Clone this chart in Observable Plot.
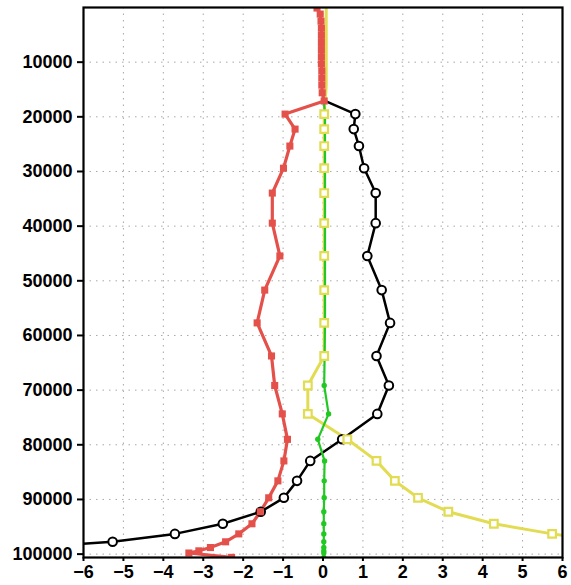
<!DOCTYPE html>
<html>
<head>
<meta charset="utf-8">
<script src="https://cdn.jsdelivr.net/npm/d3@7"></script>
<script src="https://cdn.jsdelivr.net/npm/@observablehq/plot@0.6"></script>
<style>
  html, body { margin: 0; padding: 0; background: #fff; }
  #chart svg { display: block; }
</style>
</head>
<body>
<div id="chart"></div>
<script>
// Vertical levels (Pa)
const levels = [100, 1200, 2500, 3800, 5100, 6400, 7700, 9000, 10300, 11600, 12900, 14200, 15600, 17100,
  19500, 22250, 25350, 29400, 33950, 39450, 45450, 51700, 57700, 63750, 69150, 74350, 79000, 82950,
  86600, 89700, 92250, 94450, 96300, 97750, 98800, 99400, 99800, 100600];

// null = not visible in the reference (hidden above 17100 Pa)
const blackSeries = [null, null, null, null, null, null, null, null, null, null, null, null, null, 0.05,
  0.81, 0.77, 0.90, 1.03, 1.32, 1.32, 1.11, 1.47, 1.68, 1.34, 1.65, 1.36, 0.48, -0.32,
  -0.65, -0.98, -1.56, -2.51, -3.71, -5.27, -7.5, -8.8, -9.6, -10.5];

const yellowSeries = [0.08, 0.08, 0.08, 0.08, 0.08, 0.08, 0.08, 0.08, 0.08, 0.08, 0.08, 0.08, 0.07, 0.05,
  0.03, 0.03, 0.03, 0.03, 0.03, 0.03, 0.03, 0.03, 0.03, 0.03, -0.38, -0.38, 0.61, 1.34,
  1.80, 2.38, 3.14, 4.28, 5.74, 7.3, 8.4, 9.0, 9.4, 10.0];

const greenSeries = [null, null, null, null, null, null, null, null, null, null, null, null, null, 0.02,
  0.05, 0.05, 0.05, 0.05, 0.05, 0.05, 0.05, 0.05, 0.05, 0.04, 0.03, 0.14, -0.13, 0.04,
  0.03, 0.03, 0.02, 0.02, 0.02, 0.02, 0.02, 0.02, 0.02, 0.02];

const redSeries = [-0.15, -0.07, -0.05, -0.04, -0.04, -0.04, -0.04, -0.04, -0.04, -0.03, -0.03, -0.03, -0.02, 0.03,
  -0.95, -0.70, -0.83, -0.99, -1.27, -1.27, -1.08, -1.46, -1.65, -1.29, -1.21, -1.02, -0.89, -0.98,
  -1.13, -1.36, -1.57, -1.78, -2.11, -2.44, -2.82, -3.11, -3.36, -2.29];

// black, green and yellow markers are only visible from this level downward
const markerTop = 19000;

const xTicks = [-6, -5, -4, -3, -2, -1, 0, 1, 2, 3, 4, 5, 6];
const yTicks = [10000, 20000, 30000, 40000, 50000, 60000, 70000, 80000, 90000, 100000];

const mk = (vals) => levels.map((p, i) => ({p, v: vals[i]}));
const black = mk(blackSeries);
const yellow = mk(yellowSeries);
const green = mk(greenSeries);
const red = mk(redSeries);
const below = d => d.p >= markerTop;

const cBlack = "#000000", cYellow = "#e2dc52", cGreen = "#22c822", cRed = "#e4514b";

const chart = Plot.plot({
  width: 571,
  height: 585,
  marginLeft: 83,
  marginRight: 9,
  marginTop: 7,
  marginBottom: 28,
  style: {fontFamily: "'Liberation Sans', Arial, sans-serif", fontSize: "18px", fontWeight: "bold", color: "#000", background: "#fff"},
  x: {domain: [-6, 6], label: null},
  y: {domain: [0, 100620], reverse: true, label: null},
  marks: [
    Plot.gridX(xTicks, {stroke: "#a8a8a8", strokeOpacity: 1, strokeDasharray: "1.5,5"}),
    Plot.gridY(yTicks, {stroke: "#a8a8a8", strokeOpacity: 1, strokeDasharray: "1.5,5"}),
    Plot.line(black, {x: "v", y: "p", stroke: cBlack, strokeWidth: 2.5, clip: true}),
    Plot.line(yellow, {x: "v", y: "p", stroke: cYellow, strokeWidth: 3, clip: true}),
    Plot.line(green, {x: "v", y: "p", stroke: cGreen, strokeWidth: 2.2, clip: true}),
    Plot.line(red, {x: "v", y: "p", stroke: cRed, strokeWidth: 3.2, clip: true}),
    Plot.dot(black, {filter: below, x: "v", y: "p", r: 4.3, stroke: cBlack, strokeWidth: 2, fill: "white", clip: true}),
    Plot.dot(green, {filter: below, x: "v", y: "p", r: 2.7, fill: cGreen, stroke: "none", clip: true}),
    Plot.dot(yellow, {filter: below, x: "v", y: "p", symbol: "square", r: 4.3, stroke: cYellow, strokeWidth: 2.2, fill: "white", clip: true}),
    Plot.dot(red, {x: "v", y: "p", symbol: "square", r: 4, fill: cRed, stroke: "none", clip: true}),
    Plot.frame({stroke: "#000", strokeWidth: 2.2}),
    Plot.axisY(yTicks, {tickSize: 6, tickPadding: 5, strokeWidth: 2, tickFormat: d => String(d), label: null}),
    Plot.axisX(xTicks, {tickSize: 4, tickPadding: 4, strokeWidth: 2, label: null})
  ]
});
document.getElementById("chart").appendChild(chart);
</script>
</body>
</html>
